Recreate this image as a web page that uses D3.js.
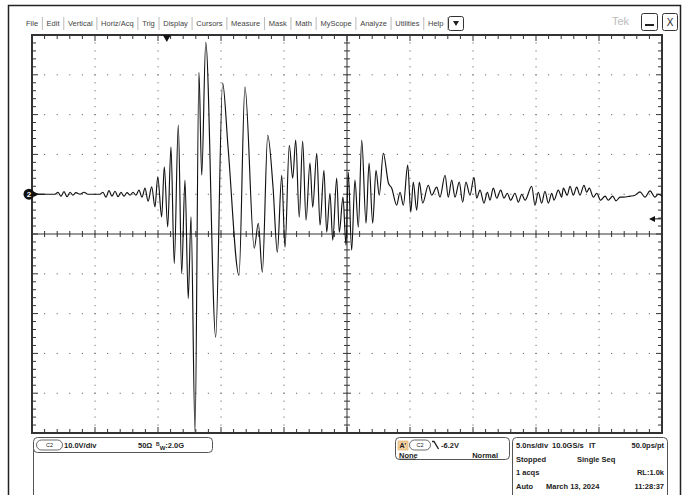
<!DOCTYPE html>
<html>
<head>
<meta charset="utf-8">
<script src="https://cdn.jsdelivr.net/npm/d3@7"></script>
<style>
body { margin: 0; background: #fff; }
svg { display: block; font-family: "Liberation Sans", Arial, sans-serif; }
</style>
</head>
<body>
<svg id="scope" width="683" height="495"></svg>
<script>
// channel 2 record (time from left edge in ns, volts)
var timeNs = [0, 1.83, 2.06, 2.30, 2.54, 2.78, 3.02, 3.25, 3.49, 3.81,
  4.13, 4.44, 5.40, 5.63, 5.87, 6.11, 6.35, 6.59, 6.83, 7.06,
  7.30, 7.54, 7.78, 8.02, 8.25, 8.49, 8.73, 8.97, 9.21, 9.50,
  9.76, 9.98, 10.29, 10.50, 10.77, 11.03, 11.29, 11.61, 11.88, 12.14,
  12.40, 12.62, 12.94, 13.25, 13.47, 13.79, 14.58, 15.13, 15.56, 16.43,
  16.90, 17.64, 17.96, 18.28, 18.71, 19.13, 19.47, 19.82, 20.08, 20.42,
  20.69, 20.93, 21.21, 21.48, 21.75, 22.06, 22.28, 22.60, 22.86, 23.17,
  23.39, 23.65, 23.87, 24.18, 24.39, 24.68, 24.92, 25.10, 25.37, 25.63,
  25.90, 26.17, 26.51, 26.75, 27.04, 27.30, 27.56, 27.88, 28.29, 28.55,
  28.94, 29.21, 29.47, 29.82, 30.06, 30.26, 30.53, 30.74, 31.01, 31.45,
  31.72, 32.12, 32.38, 32.78, 33.04, 33.31, 33.57, 33.91, 34.18, 34.44,
  34.76, 35.08, 35.29, 35.56, 35.87, 36.14, 36.35, 36.61, 36.88, 37.20,
  37.46, 37.72, 37.99, 38.33, 38.60, 38.87, 39.13, 39.66, 39.92, 40.18,
  40.45, 40.71, 40.98, 41.25, 41.43, 41.77, 42.04, 42.17, 42.48, 42.70,
  42.96, 43.23, 43.49, 43.81, 44.02, 44.23, 44.55, 44.82, 45.13, 45.48,
  45.74, 46.09, 46.35, 46.67, 46.93, 47.46, 47.86, 48.25, 48.65, 49.05,
  49.44, 49.71, 50];
var voltV = [0, 0, 0.50, -0.50, 0.63, -0.63, 0.50, -0.25, 0.38, 0,
  0.50, 0, 0, 0.50, -0.75, 0.88, -0.50, 0.75, -0.63, 0.50,
  -0.50, 0.38, -0.25, 0.50, -0.25, 1.01, -0.75, 1.51, -1.76, 1.83,
  -3.19, 4.35, -5.70, 6.86, -8.22, 11.88, -17.41, 17.34, -19.92, 3.52,
  -26.21, -5.70, -59.80, 30.65, 4.77, 38.19, -35.93, 27.89, 11.81, -20.35,
  26.89, -13.57, -7.29, -19.60, 14.82, 1.76, -14.57, 4.77, -13.32, 12.31,
  4.02, 13.57, -5.78, 13.32, -6.53, 7.79, -3.27, 10.30, -7.79, 6.03,
  -9.55, 0.25, -11.56, 4.02, -9.55, -0.75, -12.81, 5.53, -14.07, 3.52,
  -8.29, 13.57, -7.29, 7.79, -7.29, 6.03, -0.25, 10.30, 2.76, 1.51,
  -2.76, 0.50, -2.76, 7.29, -4.52, 3.02, -4.02, 3.02, -2.26, 2.26,
  -0.25, 1.76, -0.75, 4.77, -0.75, 3.52, -0.75, 3.02, -2.01, 3.02,
  -0.25, 4.27, -1.01, 1.01, -2.26, 0.50, -1.51, 1.51, -1.01, 1.01,
  -1.01, 0.25, -1.51, 0.25, -2.01, 0, -1.51, 2.01, -2.76, 0.50,
  -2.26, 0.75, -2.26, 0.25, -1.51, 1.01, -0.75, 1.51, -0.25, 2.01,
  -0.25, 1.76, -0.25, 2.26, 0.50, 1.51, -0.75, 0.25, -1.51, -0.50,
  -1.51, -0.50, -1.68, -0.75, -0.75, -0.50, -0.25, 0.58, -0.75, 0.83,
  -0.75, 0, -0.43];

var timeDomain = [0, 50];      // 10 div x 5 ns
var voltDomain = [-60, 40];    // 10 div x 10 V, ground 1 div above centre
var triggerPosNs = 10.7;
var triggerLevelV = -6.2;

var menuItems = ["File", "Edit", "Vertical", "Horiz/Acq", "Trig", "Display", "Cursors",
  "Measure", "Mask", "Math", "MyScope", "Analyze", "Utilities", "Help"];

var statusRows = [
  ["5.0ns/div", "10.0GS/s", "IT", "50.0ps/pt"],
  ["Stopped", "Single Seq"],
  ["1 acqs", "RL:1.0k"],
  ["Auto", "March 13, 2024", "11:28:37"]
];

var svg = d3.select("#scope");
var x = d3.scaleLinear().domain(timeDomain).range([32, 662]);
var y = d3.scaleLinear().domain(voltDomain).range([433, 35]);

// outer window frame
svg.append("path")
  .attr("d", "M8.5,495 V5.5 H680.5 V495")
  .attr("fill", "none").attr("stroke", "#222").attr("stroke-width", 1.5);

// menu bar
var menu = svg.append("g").attr("font-size", 7.5).attr("fill", "#444");
var items = menu.selectAll("text").data(menuItems).enter().append("text")
  .attr("y", 26).text(function(d) { return d; });
var widths = [];
items.each(function() { widths.push(this.getComputedTextLength()); });
var gap = (428 - 26 - d3.sum(widths.slice(0, -1))) / (menuItems.length - 1);
var pos = 26;
items.attr("x", function(d, i) {
  var p = pos; pos += widths[i] + gap; return p;
});
var seps = [];
pos = 26;
widths.forEach(function(w, i) { pos += w + gap; if (i < widths.length - 1) seps.push(pos - gap / 2); });
menu.selectAll("line").data(seps.concat([428 + widths[widths.length - 1] + gap / 2])).enter().append("line")
  .attr("x1", function(d) { return d; }).attr("x2", function(d) { return d; })
  .attr("y1", 17).attr("y2", 30).attr("stroke", "#bbb");
svg.append("rect").attr("x", 448.5).attr("y", 16.5).attr("width", 15).attr("height", 14)
  .attr("rx", 2).attr("fill", "#fff").attr("stroke", "#333");
svg.append("path").attr("d", "M453,21 L459,21 L456,26 Z").attr("fill", "#222");

svg.append("text").attr("x", 612).attr("y", 25).attr("font-size", 11)
  .attr("fill", "#bbb").text("Tek");
svg.append("rect").attr("x", 641.5).attr("y", 13.5).attr("width", 16).attr("height", 17)
  .attr("rx", 2).attr("fill", "#fff").attr("stroke", "#333");
svg.append("line").attr("x1", 645).attr("x2", 654).attr("y1", 25).attr("y2", 25)
  .attr("stroke", "#222").attr("stroke-width", 2);
svg.append("rect").attr("x", 662.5).attr("y", 13.5).attr("width", 15).attr("height", 17)
  .attr("rx", 2).attr("fill", "#fff").attr("stroke", "#333");
svg.append("text").attr("x", 670).attr("y", 26).attr("font-size", 10)
  .attr("text-anchor", "middle").attr("fill", "#222").text("X");

// graticule
var grid = svg.append("g");
var majorT = d3.range(timeDomain[0], timeDomain[1] + 0.01, 5);
var majorV = d3.range(voltDomain[0], voltDomain[1] + 0.01, 10);
var minorT = d3.range(timeDomain[0], timeDomain[1] + 0.01, 1);
var minorV = d3.range(voltDomain[0], voltDomain[1] + 0.01, 2);
var midT = 25, midV = -10;

// dotted division lines
majorT.slice(1, -1).filter(function(t) { return t !== midT; }).forEach(function(t) {
  grid.selectAll(null).data(minorV.slice(1, -1)).enter().append("rect")
    .attr("x", x(t) - 0.5).attr("y", function(v) { return y(v) - 0.6; })
    .attr("width", 1.1).attr("height", 1.2).attr("fill", "#777");
});
majorV.slice(1, -1).filter(function(v) { return v !== midV; }).forEach(function(v) {
  grid.selectAll(null).data(minorT.slice(1, -1)).enter().append("rect")
    .attr("x", function(t) { return x(t) - 0.6; }).attr("y", y(v) - 0.5)
    .attr("width", 1.2).attr("height", 1.1).attr("fill", "#777");
});

// centre cross with ticks
grid.append("line").attr("x1", x(timeDomain[0])).attr("x2", x(timeDomain[1]))
  .attr("y1", y(midV)).attr("y2", y(midV)).attr("stroke", "#333");
grid.append("line").attr("x1", x(midT)).attr("x2", x(midT))
  .attr("y1", y(voltDomain[0])).attr("y2", y(voltDomain[1])).attr("stroke", "#333");
grid.selectAll(null).data(minorT).enter().append("line")
  .attr("x1", function(t) { return x(t); }).attr("x2", function(t) { return x(t); })
  .attr("y1", function(t) { return y(midV) - (t % 5 === 0 ? 4 : 3); })
  .attr("y2", function(t) { return y(midV) + (t % 5 === 0 ? 4 : 3); })
  .attr("stroke", "#333");
grid.selectAll(null).data(minorV).enter().append("line")
  .attr("y1", function(v) { return y(v); }).attr("y2", function(v) { return y(v); })
  .attr("x1", function(v) { return x(midT) - (v % 10 === 0 ? 4 : 3); })
  .attr("x2", function(v) { return x(midT) + (v % 10 === 0 ? 4 : 3); })
  .attr("stroke", "#333");

// frame ticks
[y(voltDomain[1]), y(voltDomain[0])].forEach(function(edge, k) {
  var dir = k === 0 ? 1 : -1;
  grid.selectAll(null).data(minorT).enter().append("line")
    .attr("x1", function(t) { return x(t); }).attr("x2", function(t) { return x(t); })
    .attr("y1", edge).attr("y2", function(t) { return edge + dir * (t % 5 === 0 ? 6 : 4); })
    .attr("stroke", "#333");
});
[x(timeDomain[0]), x(timeDomain[1])].forEach(function(edge, k) {
  var dir = k === 0 ? 1 : -1;
  grid.selectAll(null).data(minorV).enter().append("line")
    .attr("y1", function(v) { return y(v); }).attr("y2", function(v) { return y(v); })
    .attr("x1", edge).attr("x2", function(v) { return edge + dir * (v % 10 === 0 ? 6 : 4); })
    .attr("stroke", "#333");
});
grid.append("rect").attr("x", x(timeDomain[0])).attr("y", y(voltDomain[1]))
  .attr("width", x(timeDomain[1]) - x(timeDomain[0]))
  .attr("height", y(voltDomain[0]) - y(voltDomain[1]))
  .attr("fill", "none").attr("stroke", "#333").attr("stroke-width", 2);

// waveform
var trace = timeNs.map(function(t, i) { return [t, voltV[i]]; });
var line = d3.line()
  .x(function(d) { return x(d[0]); })
  .y(function(d) { return y(d[1]); })
  .curve(d3.curveMonotoneX);
svg.append("path").datum(trace).attr("d", line)
  .attr("fill", "none").attr("stroke", "#111").attr("stroke-width", 1.15);

// markers
var gy = y(0);
svg.append("circle").attr("cx", 29).attr("cy", gy).attr("r", 5.5).attr("fill", "#111");
svg.append("text").attr("x", 29).attr("y", gy + 3).attr("text-anchor", "middle")
  .attr("font-size", 8).attr("font-weight", "bold").attr("fill", "#fff").text("2");
svg.append("path").attr("d", "M34," + (gy - 2.5) + " L39," + gy + " L34," + (gy + 2.5) + " Z").attr("fill", "#111");
svg.append("line").attr("x1", 38).attr("x2", 44).attr("y1", gy).attr("y2", gy).attr("stroke", "#111");

var tx = x(triggerPosNs), ty = y(voltDomain[1]);
svg.append("path").attr("d", "M" + (tx - 4) + "," + ty + " L" + (tx + 4) + "," + ty + " L" + tx + "," + (ty + 7) + " Z")
  .attr("fill", "#111");
var ly = y(triggerLevelV);
svg.append("line").attr("x1", 653).attr("x2", 661).attr("y1", ly).attr("y2", ly).attr("stroke", "#111");
svg.append("path").attr("d", "M649," + ly + " L655," + (ly - 3) + " L655," + (ly + 3) + " Z").attr("fill", "#111");

// bottom panel
var panel = svg.append("g").attr("font-size", 7.5).attr("font-weight", "bold").attr("fill", "#222");
panel.append("line").attr("x1", 33.5).attr("x2", 33.5).attr("y1", 445).attr("y2", 495).attr("stroke", "#555");
panel.append("rect").attr("x", 33.5).attr("y", 437.5).attr("width", 179).attr("height", 15)
  .attr("rx", 4).attr("fill", "#fff").attr("stroke", "#555");
function pill(px, py, w) {
  panel.append("rect").attr("x", px).attr("y", py).attr("width", w).attr("height", 10)
    .attr("rx", 5).attr("fill", "#fff").attr("stroke", "#444").attr("stroke-width", 0.8);
  panel.append("text").attr("x", px + w / 2).attr("y", py + 7.3).attr("text-anchor", "middle")
    .attr("font-size", 5.5).attr("font-weight", "normal").text("C2");
}
pill(36.5, 440, 26);
panel.append("text").attr("x", 64).attr("y", 448).text("10.0V/div");
panel.append("text").attr("x", 138).attr("y", 448).text("50\u03a9");
var bw = panel.append("text").attr("x", 156).attr("y", 448);
bw.append("tspan").attr("font-size", 5).attr("dy", -2).text("B");
bw.append("tspan").attr("font-size", 6).attr("dy", 4).text("W");
bw.append("tspan").attr("dy", -2).text(":2.0G");

panel.append("rect").attr("x", 395.5).attr("y", 437.5).attr("width", 114).attr("height", 22)
  .attr("rx", 4).attr("fill", "#fff").attr("stroke", "#555");
panel.append("rect").attr("x", 398).attr("y", 441).attr("width", 10).attr("height", 9)
  .attr("fill", "#f2cf9c").attr("stroke", "#d9a860").attr("stroke-width", 0.6);
panel.append("text").attr("x", 399.5).attr("y", 448.3).attr("font-size", 7).text("A'");
pill(409.5, 440, 21);
panel.append("path").attr("d", "M432,441.5 H434 L438.5,449").attr("fill", "none")
  .attr("stroke", "#222").attr("stroke-width", 1.4);
panel.append("text").attr("x", 441).attr("y", 448).text("-6.2V");
panel.append("text").attr("x", 399).attr("y", 457.5).text("None");
panel.append("line").attr("x1", 399).attr("x2", 416).attr("y1", 459).attr("y2", 459).attr("stroke", "#222").attr("stroke-width", 0.6);
panel.append("text").attr("x", 498).attr("y", 457.5).attr("text-anchor", "end").text("Normal");

panel.append("rect").attr("x", 512.5).attr("y", 437.5).attr("width", 155).attr("height", 70)
  .attr("rx", 4).attr("fill", "#fff").attr("stroke", "#555");
var rowY = [448, 461.5, 475, 488.5];
var rowX = [[516, 552, 589, 664], [516, 577], [516, 664], [516, 546, 664]];
statusRows.forEach(function(row, r) {
  row.forEach(function(txt, c) {
    var last = c === row.length - 1 && rowX[r][c] > 650;
    panel.append("text").attr("x", rowX[r][c]).attr("y", rowY[r])
      .attr("text-anchor", last ? "end" : "start").text(txt);
  });
});
</script>
</body>
</html>
